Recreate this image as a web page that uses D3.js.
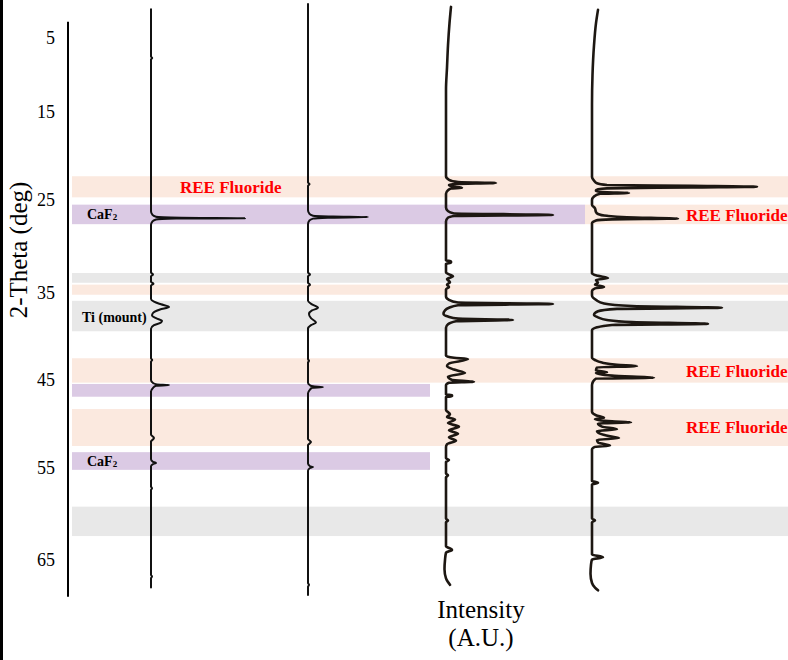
<!DOCTYPE html>
<html>
<head>
<meta charset="utf-8">
<script src="https://cdn.jsdelivr.net/npm/d3@7"></script>
<style>
html, body { margin: 0; padding: 0; background: #fff; }
svg { display: block; }
svg text { font-family: "Liberation Serif", "Times New Roman", Times, serif; }
</style>
</head>
<body>
<div id="chart"></div>
<script>
// Stacked XRD patterns (2-theta vertical, intensity horizontal)

// --- données ---
const thetaTicks = [5, 15, 25, 35, 45, 55, 65];
const axisExtent = [2.8, 69];

// intensity offset (A.U.) of each pattern baseline
const traceOffsets = [83, 240, 378, 524];

// [2-theta, intensity above baseline]
const trace1 = [
  [1.1, 0], [7.5, 0], [7.7, 1.2], [7.9, 0],
  [26.2, 0], [26.6, 1.5], [26.8, 5], [26.9, 30], [26.95, 94], [27.0, 25], [27.1, 5], [27.3, 1.5], [27.7, 0],
  [32.8, 0], [33.0, 2], [33.2, 0], [33.8, 0], [34.0, 2.5], [34.2, 0],
  [35.7, 0], [36.0, 3], [36.3, 10], [36.6, 18], [36.9, 9], [37.3, 2], [37.6, 1], [37.9, 5], [38.2, 11], [38.4, 10], [38.7, 3], [39.1, 0],
  [42.5, 0], [42.7, 1.2], [42.9, 0],
  [45.0, 0], [45.35, 2], [45.5, 6], [45.57, 18], [45.65, 5], [45.9, 2], [46.3, 0],
  [51.2, 0], [51.6, 3], [52.0, 0],
  [54.0, 0], [54.3, 2], [54.43, 5], [54.55, 2], [54.8, 0],
  [57.0, 0], [57.2, 1], [57.4, 0],
  [66.6, 0], [66.8, 1], [67.0, 0], [68.0, 0]
];

const trace2 = [
  [0.4, 0], [23.0, 0], [23.2, 1.5], [23.4, 0],
  [26.1, 0], [26.5, 1.5], [26.7, 5], [26.78, 25], [26.83, 60], [26.9, 20], [27.0, 5], [27.2, 1.5], [27.6, 0],
  [32.8, 0], [33.0, 2], [33.2, 0], [33.9, 0], [34.1, 2], [34.3, 0],
  [35.9, 0], [36.3, 4], [36.7, 10], [37.0, 4], [37.4, 1], [37.9, 3], [38.4, 8], [38.7, 3], [39.1, 0],
  [42.6, 0], [42.8, 1], [43.0, 0],
  [45.3, 0], [45.6, 2], [45.72, 5], [45.8, 15], [45.88, 4], [46.1, 2], [46.5, 0],
  [51.7, 0], [52.05, 3], [52.4, 0],
  [54.5, 0], [54.8, 2], [54.9, 5], [55.0, 2], [55.3, 0],
  [67.5, 0], [67.7, 1], [67.9, 0], [68.8, 0]
];

const trace3 = [
  [0.8, 5], [3, 3.5], [6, 2], [9, 1], [12, 0],
  [22.3, 0], [22.7, 3], [22.95, 12], [23.07, 50], [23.17, 10], [23.3, 3], [23.45, 6], [23.6, 16], [23.7, 5], [23.9, 2], [24.3, 0],
  [25.8, 0], [26.2, 2], [26.45, 8], [26.6, 107], [26.72, 8], [26.9, 2], [27.3, 0],
  [31.5, 0], [31.6, 5], [31.75, 5], [31.85, 0],
  [32.8, 0], [33.0, 3], [33.2, 7], [33.5, 1], [33.85, 4], [34.1, 1], [34.35, 3], [34.6, 0],
  [35.4, 0], [35.8, 3], [36.1, 12], [36.26, 107], [36.4, 12], [36.7, 3], [37.0, -1], [37.4, -2.5], [37.7, 2], [37.95, 12], [38.1, 67], [38.25, 10], [38.6, 2], [39.0, 0],
  [42.2, 0], [42.45, 8], [42.6, 22], [43.1, 3], [43.4, 1], [43.8, 8], [44.2, 19], [44.6, 2], [45.0, 6], [45.2, 28], [45.32, 3], [45.6, 0],
  [46.65, 0], [46.72, 6], [46.85, 6], [46.92, 0],
  [48.4, 0], [48.9, 4], [49.2, 1], [49.5, 9], [49.9, 2], [50.3, 13], [50.7, 3], [51.1, 12], [51.5, 3], [51.9, 10], [52.3, 1], [52.6, 0],
  [53.9, 0], [54.1, 3], [54.3, 0], [55.6, 0], [55.8, 2], [56.0, 0],
  [60.5, 0], [60.7, 2], [60.9, 0],
  [63.5, 0], [63.9, 6], [64.2, 0], [65.0, -1], [66.0, -1.5], [67.0, 0], [67.4, 2], [67.7, 4]
];

const trace4 = [
  [1.2, 6], [3, 4], [6, 2], [10, 0.5], [14, 0],
  [22.4, 0], [22.8, 2], [23.1, 5], [23.3, 15], [23.4, 100], [23.5, 165], [23.58, 100], [23.68, 15], [23.85, 4], [24.0, 4], [24.12, 15], [24.2, 37], [24.3, 8], [24.6, 2], [25.0, 0],
  [25.5, 0], [25.9, 3], [26.3, 4], [26.5, 6], [26.7, 15], [26.85, 35], [27.0, 86], [27.08, 20], [27.2, 4], [27.5, 0],
  [32.9, 0], [33.15, 6], [33.4, 16], [33.6, 4], [33.9, 6], [34.1, 3], [34.35, 12], [34.5, 3], [34.8, 0],
  [35.3, 0], [35.8, 4], [36.2, 12], [36.5, 40], [36.7, 130], [36.82, 25], [37.1, 6], [37.5, 2], [37.8, 6], [38.1, 15], [38.35, 40], [38.55, 116], [38.67, 20], [38.95, 5], [39.3, 0],
  [42.4, 0], [42.7, 3], [43.0, 10], [43.25, 25], [43.4, 45], [43.55, 5], [43.9, 4], [44.1, 15], [44.2, 4], [44.5, 20], [44.75, 62], [44.85, 4], [45.2, 1], [45.6, 0],
  [48.6, 0], [49.0, 4], [49.3, 12], [49.45, 3], [49.7, 20], [49.8, 39], [49.95, 6], [50.3, 10], [50.6, 25], [50.8, 5], [51.1, 8], [51.4, 18], [51.6, 27], [51.8, 5], [52.1, 6], [52.45, 18], [52.6, 3], [52.9, 0],
  [56.4, 0], [56.6, 6], [56.8, 0],
  [60.5, 0], [60.7, 3], [60.9, 0],
  [64.4, 0], [64.7, 11], [64.95, 0], [65.5, -1], [66.5, -1.5], [67.5, 0], [68.0, 3], [68.3, 6]
];

const traces = [trace1, trace2, trace3, trace4];

// bands: [from 2-theta, to 2-theta, phase, extent (A.U.)]
const bandFrom  = [22.3, 25.5, 25.5, 32.85, 34.1, 35.9, 42.5, 45.45, 48.3, 53.2, 59.2];
const bandTo    = [24.7, 27.6, 27.6, 33.9,  35.2, 39.4, 45.3, 46.9,  52.5, 55.2, 62.4];
const bandPhase = ['ree', 'caf2', 'ree', 'ti', 'ree', 'ti', 'ree', 'caf2', 'ree', 'caf2', 'ti'];
const bandStart = [4, 4, 517, 4, 4, 4, 4, 4, 4, 4, 4];
const bandEnd   = [720, 517, 720, 720, 720, 720, 720, 362, 720, 362, 720];

// annotations
const labelText  = ['REE Fluoride', 'CaF', 'REE Fluoride', 'Ti (mount)', 'REE Fluoride', 'REE Fluoride', 'CaF'];
const labelTheta = [23.55, 26.5, 26.6, 37.8, 44.0, 50.35, 54.2];
const labelPos   = [112, 19, 618, 14, 618, 618, 19];
const labelSub   = [false, true, false, false, false, false, true];

// --- rendu ---
const width = 788, height = 660;
const serif = '"Liberation Serif", "Times New Roman", Times, serif';
const bandColor = { ree: '#fbe9df', caf2: '#dbcae4', ti: '#e8e8e8' };

const svg = d3.select('#chart').append('svg')
  .attr('width', width)
  .attr('height', height)
  .attr('font-family', serif);

const yScale = d3.scaleLinear().domain(thetaTicks).range([38, 112, 200, 293, 380, 468, 560]);
const xScale = d3.scaleLinear().domain([0, 720]).range([68, 788]);

// left frame edge
svg.append('rect').attr('x', 0).attr('y', 0).attr('width', 3).attr('height', height).attr('fill', '#000');

// bands
svg.append('g').selectAll('rect')
  .data(d3.range(bandFrom.length))
  .join('rect')
  .attr('x', i => xScale(bandStart[i]))
  .attr('width', i => xScale(bandEnd[i]) - xScale(bandStart[i]))
  .attr('y', i => yScale(bandFrom[i]))
  .attr('height', i => yScale(bandTo[i]) - yScale(bandFrom[i]))
  .attr('fill', i => bandColor[bandPhase[i]]);

// axe
svg.append('line')
  .attr('x1', xScale(0)).attr('x2', xScale(0))
  .attr('y1', yScale(axisExtent[0])).attr('y2', yScale(axisExtent[1]))
  .attr('stroke', '#000').attr('stroke-width', 2);

const axis = svg.append('g')
  .attr('transform', `translate(${xScale(0)},0)`)
  .call(d3.axisLeft(yScale).tickValues(thetaTicks).tickSize(0).tickPadding(13));
axis.attr('font-family', serif).attr('font-size', 18);
axis.select('.domain').remove();
axis.selectAll('text').attr('fill', '#000');

svg.append('text')
  .attr('transform', `translate(27,${(yScale(15) + yScale(45)) / 2 + 4}) rotate(-90)`)
  .attr('text-anchor', 'middle')
  .style('font-size', '25px')
  .text('2-Theta (deg)');

svg.append('text')
  .attr('x', 481).attr('y', 618)
  .attr('text-anchor', 'middle')
  .style('font-size', '25px')
  .text('Intensity');

svg.append('text')
  .attr('x', 481).attr('y', 646)
  .attr('text-anchor', 'middle')
  .style('font-size', '25px')
  .text('(A.U.)');

// patterns
traces.forEach((pts, k) => {
  const line = d3.line()
    .x(d => xScale(traceOffsets[k] + d[1]))
    .y(d => yScale(d[0]))
    .curve(d3.curveMonotoneY);
  svg.append('path')
    .datum(pts)
    .attr('d', line)
    .attr('fill', 'none')
    .attr('stroke', k < 2 ? '#111' : '#1d1712')
    .attr('stroke-width', k < 2 ? 2 : 2.6)
    .attr('stroke-linejoin', 'round')
    .attr('stroke-linecap', 'round');
});

// labels
const labels = svg.append('g');
labelText.forEach((t, i) => {
  const isRee = t.startsWith('REE');
  const txt = labels.append('text')
    .attr('x', xScale(labelPos[i]))
    .attr('y', yScale(labelTheta[i]))
    .attr('dy', '0.35em')
    .style('font-weight', 'bold')
    .style('font-size', isRee ? '17px' : '14px')
    .attr('fill', isRee ? '#ff0000' : '#000')
    .text(t);
  if (labelSub[i]) {
    txt.append('tspan')
      .attr('dy', '0.15em')
      .style('font-size', '9px')
      .text('2');
  }
});
</script>
</body>
</html>
